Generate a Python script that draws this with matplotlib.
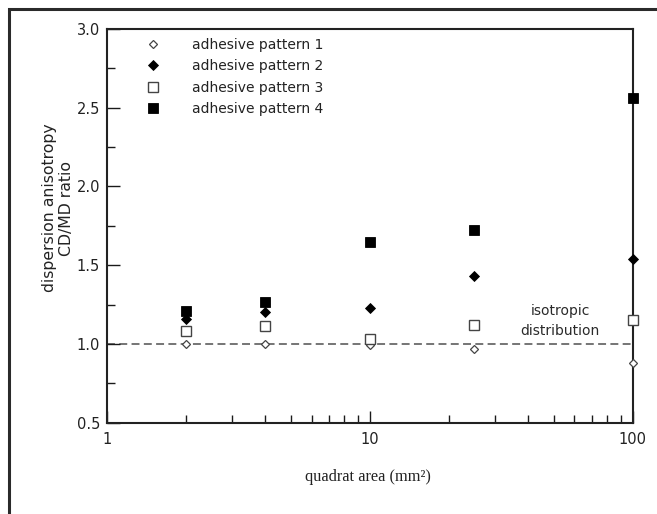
import matplotlib
matplotlib.use("Agg")
import matplotlib.pyplot as plt
from matplotlib.lines import Line2D
from matplotlib.ticker import MultipleLocator, LogLocator, NullFormatter, FixedLocator, FixedFormatter

# ---- data ----
quadrat_area = [2, 4, 10, 25, 100]
pattern1 = [1.00, 1.00, 0.99, 0.97, 0.88]
pattern2 = [1.16, 1.20, 1.23, 1.43, 1.54]
pattern3 = [1.085, 1.115, 1.03, 1.12, 1.15]
pattern4 = [1.21, 1.265, 1.65, 1.725, 2.56]
series_labels = ["adhesive pattern 1", "adhesive pattern 2",
                 "adhesive pattern 3", "adhesive pattern 4"]
x_ticks = [1, 10, 100]
x_tick_labels = ["1", "10", "100"]
isotropic_level = 1.0

W, H = 657, 514
fig = plt.figure(figsize=(W / 100, H / 100), dpi=100)
fig.patch.set_facecolor("white")
ax = fig.add_axes([107 / W, 1 - 422.7 / H, (632.7 - 107) / W, (422.7 - 28.8) / H])

# outer frame (left and top visible)
fx = 8.5 / W
fy = 1 - 8.5 / H
fig.add_artist(Line2D([fx, fx, 1.01], [-0.01, fy, fy], transform=fig.transFigure,
                      color="#2a2a2a", lw=2.2, solid_joinstyle="miter"))

dark = "#1a1a1a"
ax.axhline(isotropic_level, color="#6a6a6a", lw=1.3, dashes=(4.4, 2.4), zorder=1)

common = dict(ls="none", clip_on=False, zorder=4)
ax.plot(quadrat_area, pattern1, marker="D", ms=4.3, mfc="white",
        mec="#444444", mew=0.9, label=series_labels[0], **common)
ax.plot(quadrat_area, pattern2, marker="D", ms=5.0, mfc="black",
        mec="black", mew=0.6, label=series_labels[1], **common)
ax.plot(quadrat_area, pattern3, marker="s", ms=7.0, mfc="white",
        mec="#444444", mew=1.0, label=series_labels[2], **common)
ax.plot(quadrat_area, pattern4, marker="s", ms=7.6, mfc="black",
        mec="black", mew=0.6, label=series_labels[3], **common)

ax.set_xscale("log")
ax.set_xlim(1, 100)
ax.set_ylim(0.5, 3.0)

ax.xaxis.set_major_locator(FixedLocator(x_ticks))
ax.xaxis.set_major_formatter(FixedFormatter(x_tick_labels))
ax.xaxis.set_minor_locator(LogLocator(base=10, subs=range(2, 10)))
ax.xaxis.set_minor_formatter(NullFormatter())
ax.yaxis.set_major_locator(MultipleLocator(0.5))
ax.yaxis.set_minor_locator(MultipleLocator(0.25))
ax.yaxis.set_major_formatter(plt.FuncFormatter(lambda v, p: f"{v:.1f}"))

ax.tick_params(axis="both", which="both", direction="in", colors=dark,
               top=False, right=False, labelsize=10.5, labelcolor="#222222")
ax.tick_params(axis="y", which="major", length=9, width=1.0, pad=5)
ax.tick_params(axis="y", which="minor", length=6, width=1.0)
ax.tick_params(axis="x", which="major", length=9, width=1.0, pad=7)
ax.tick_params(axis="x", which="minor", length=5.5, width=1.0)

for s in ax.spines.values():
    s.set_color("#222222")
    s.set_linewidth(1.5)
    s.set_zorder(2)

# y label (two centered lines)
fig.text(58 / W, 1 - 208 / H, "dispersion anisotropy\nCD/MD ratio", rotation=90,
         ha="center", va="center", fontsize=11.3, color="#222222",
         multialignment="center", linespacing=1.2)

# x label (serif)
fig.text(368 / W, 1 - 477 / H, "quadrat area (mm²)", ha="center", va="center",
         fontsize=11.8, family="Liberation Serif", color="#222222")

ax.text(52.9, 1.145, "isotropic\ndistribution", ha="center", va="center",
        fontsize=10, color="#2a2a2a", linespacing=1.55, multialignment="center")

leg = ax.legend(loc="upper left", bbox_to_anchor=((146 - 107) / 525.7, 1 - 9 / 393.9),
                frameon=False, fontsize=10, numpoints=1, handlelength=1.0,
                handletextpad=2.3, labelspacing=0.53, borderpad=0, borderaxespad=0)
for t in leg.get_texts():
    t.set_color("#222222")

fig.savefig("out.png", dpi=100, facecolor="white")
